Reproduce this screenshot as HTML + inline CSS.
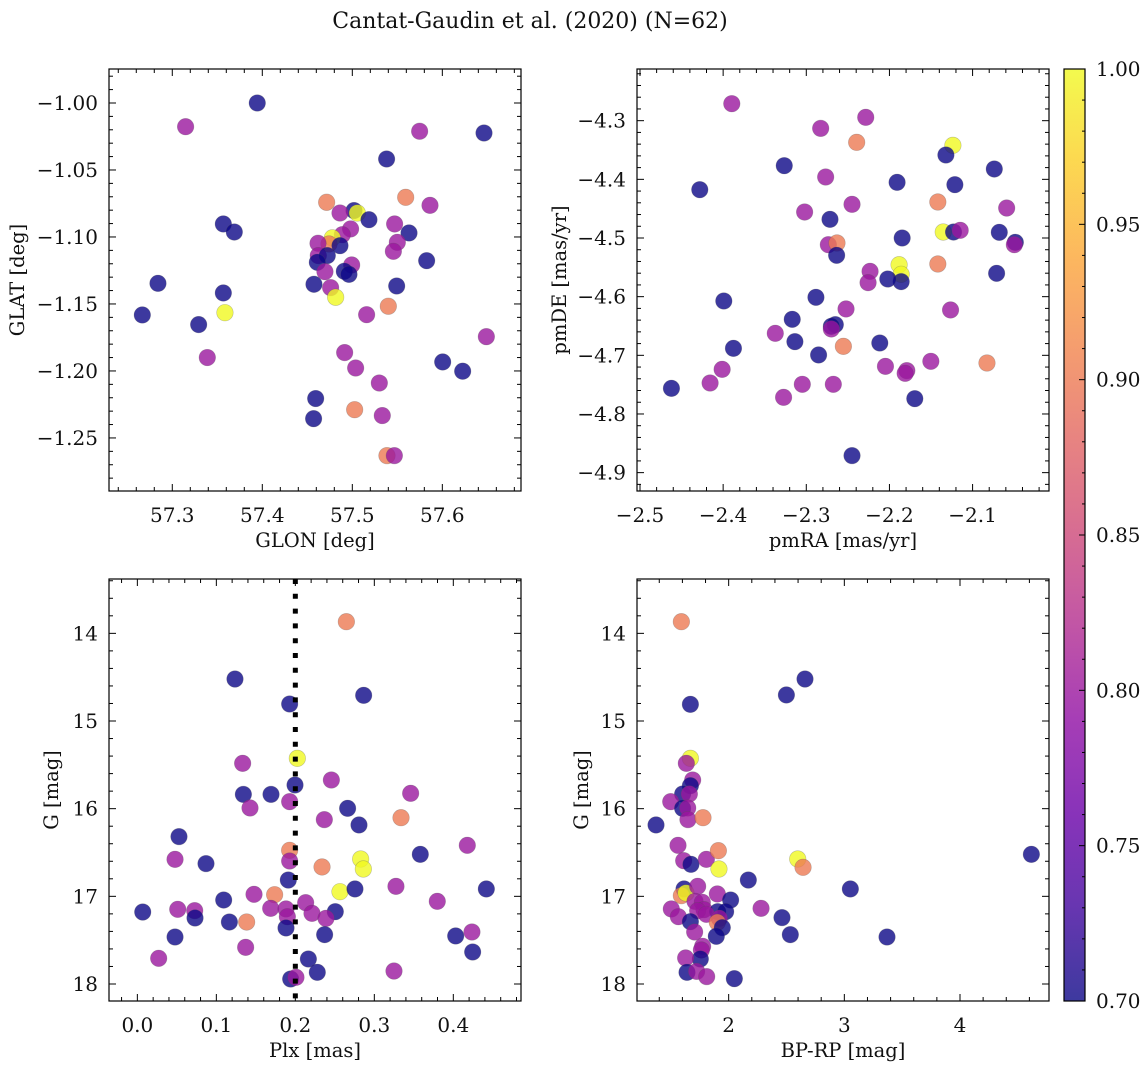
<!DOCTYPE html>
<html><head><meta charset="utf-8">
<style>
html,body{margin:0;padding:0;background:#fff;}
svg{display:block;font-family:"DejaVu Serif","Liberation Serif",serif;}
</style></head>
<body>
<svg id="fig" width="1148" height="1068" viewBox="0 0 1148 1068" xmlns="http://www.w3.org/2000/svg">
<rect x="0" y="0" width="1148" height="1068" fill="#fff"/>
<text x="530" y="28" font-size="22" text-anchor="middle" fill="#111">Cantat-Gaudin et al. (2020) (N=62)</text>
</svg>
<script>
// ---------- data ----------
// panel 1: GLON vs GLAT
const glon = [57.3944,57.3148,57.5748,57.6463,57.5381,57.4715,57.5593,57.5863,57.5019,57.5056,57.4863,57.5185,57.3567,57.3689,57.5470,57.5630,57.4981,57.4889,57.4778,57.4741,57.4619,57.4863,57.5500,57.5456,57.4622,57.4722,57.4611,57.5826,57.4993,57.4911,57.4963,57.4696,57.2841,57.4574,57.3567,57.4759,57.4815,57.5493,57.5400,57.2667,57.3585,57.5159,57.3293,57.6489,57.3389,57.4915,57.6004,57.6226,57.5037,57.5300,57.4593,57.5026,57.4570,57.5333,57.5385,57.5467];
const glat = [-1.000,-1.0177,-1.0211,-1.0224,-1.0418,-1.0741,-1.0704,-1.0764,-1.0803,-1.0821,-1.0821,-1.0871,-1.0903,-1.0963,-1.0903,-1.0970,-1.0940,-1.0983,-1.1007,-1.1052,-1.1047,-1.1065,-1.1040,-1.1107,-1.1139,-1.1139,-1.1189,-1.1177,-1.1209,-1.1256,-1.1279,-1.1259,-1.1346,-1.1353,-1.1418,-1.1378,-1.1450,-1.1366,-1.1517,-1.1582,-1.1565,-1.1580,-1.1654,-1.1744,-1.1900,-1.1863,-1.1933,-1.2002,-1.1978,-1.2090,-1.2206,-1.2289,-1.2356,-1.2333,-1.2632,-1.2632];
const prob1 = [0.70,0.80,0.80,0.70,0.70,0.90,0.90,0.80,0.70,1.00,0.80,0.70,0.70,0.70,0.80,0.70,0.80,0.80,1.00,0.90,0.80,0.70,0.80,0.80,0.80,0.70,0.70,0.70,0.80,0.70,0.70,0.80,0.70,0.70,0.70,0.80,1.00,0.70,0.90,0.70,1.00,0.80,0.70,0.80,0.80,0.80,0.70,0.70,0.80,0.80,0.70,0.90,0.70,0.80,0.90,0.80];
// panel 2: pmRA vs pmDE
const pmra = [-2.3896,-2.2285,-2.2827,-2.2394,-2.1237,-2.1321,-2.3265,-2.0739,-2.2767,-2.1908,-2.1213,-2.4281,-2.1418,-2.0590,-2.2450,-2.3020,-2.2715,-2.1353,-2.1229,-2.1149,-2.0679,-2.1847,-2.0486,-2.0498,-2.2735,-2.2631,-2.2635,-2.1884,-2.1418,-2.1859,-2.1859,-2.2020,-2.2233,-2.2257,-2.0711,-2.2884,-2.3992,-2.2522,-2.1265,-2.3169,-2.2651,-2.2699,-2.2699,-2.3373,-2.3137,-2.2554,-2.2116,-2.3876,-2.2852,-2.0827,-2.1502,-2.2048,-2.1791,-2.1811,-2.4012,-2.4622,-2.4157,-2.3048,-2.2675,-2.3273,-2.1695,-2.2450];
const pmde = [-4.2710,-4.2943,-4.3131,-4.3369,-4.3420,-4.3585,-4.3767,-4.3824,-4.3960,-4.4051,-4.4091,-4.4176,-4.4386,-4.4489,-4.4426,-4.4557,-4.4682,-4.4898,-4.4898,-4.4869,-4.4903,-4.5000,-4.5074,-4.5114,-4.5114,-4.5085,-4.5295,-4.5455,-4.5443,-4.5619,-4.5744,-4.5699,-4.5568,-4.5761,-4.5602,-4.6011,-4.6074,-4.6210,-4.6227,-4.6386,-4.6477,-4.6506,-4.6551,-4.6625,-4.6767,-4.6847,-4.6790,-4.6881,-4.6994,-4.7131,-4.7102,-4.7188,-4.7261,-4.7307,-4.7239,-4.7563,-4.7472,-4.7494,-4.7494,-4.7716,-4.7739,-4.8710];
const prob2 = [0.80,0.80,0.80,0.90,1.00,0.70,0.70,0.70,0.80,0.70,0.70,0.70,0.90,0.80,0.80,0.80,0.70,1.00,0.70,0.80,0.70,0.70,0.70,0.80,0.80,0.90,0.70,1.00,0.90,1.00,0.70,0.70,0.80,0.80,0.70,0.70,0.70,0.80,0.80,0.70,0.70,0.70,0.80,0.80,0.70,0.90,0.70,0.70,0.70,0.90,0.80,0.80,0.80,0.80,0.80,0.70,0.80,0.80,0.80,0.80,0.70,0.70];
// panel 3: Plx vs G
const plx = [0.2646,0.1236,0.2865,0.1928,0.2025,0.1333,0.2456,0.1996,0.1342,0.1692,0.3460,0.1928,0.1426,0.2662,0.2367,0.2806,0.3338,0.0527,0.4177,0.0477,0.0869,0.1928,0.1928,0.2338,0.2827,0.2861,0.3582,0.1911,0.3274,0.2565,0.2755,0.4418,0.1477,0.1738,0.1093,0.2131,0.3797,0.0068,0.0511,0.0726,0.0730,0.1688,0.1882,0.1899,0.2211,0.2506,0.2388,0.1165,0.1384,0.1882,0.2371,0.0477,0.4030,0.4236,0.1371,0.0270,0.4245,0.2165,0.2278,0.3249,0.1941,0.2008];
const gmag3 = [13.867,14.521,14.707,14.806,15.426,15.483,15.673,15.730,15.837,15.837,15.825,15.920,15.992,15.996,16.125,16.186,16.103,16.319,16.418,16.578,16.627,16.475,16.597,16.665,16.574,16.688,16.521,16.814,16.886,16.947,16.916,16.916,16.977,16.981,17.042,17.072,17.057,17.179,17.148,17.163,17.247,17.137,17.144,17.232,17.194,17.175,17.251,17.293,17.293,17.361,17.437,17.464,17.452,17.407,17.582,17.707,17.635,17.715,17.867,17.852,17.943,17.924];
const prob3 = [0.90,0.70,0.70,0.70,1.00,0.80,0.80,0.70,0.70,0.70,0.80,0.80,0.80,0.70,0.80,0.70,0.90,0.70,0.80,0.80,0.70,0.90,0.80,0.90,1.00,1.00,0.70,0.70,0.80,1.00,0.70,0.70,0.80,0.90,0.70,0.80,0.80,0.70,0.80,0.80,0.70,0.80,0.80,0.80,0.80,0.70,0.80,0.70,0.90,0.70,0.70,0.70,0.70,0.80,0.80,0.80,0.70,0.70,0.70,0.80,0.70,0.80];
// panel 4: BP-RP vs G
const bprp = [1.591,2.660,2.499,1.669,1.669,1.634,1.689,1.669,1.602,1.660,1.499,1.602,1.646,1.648,1.778,1.372,4.617,1.562,1.611,1.674,1.807,1.911,1.916,2.597,2.643,2.170,1.614,1.591,1.631,1.732,1.902,3.052,2.017,1.709,1.772,1.787,1.732,1.504,1.905,1.974,2.280,1.565,1.807,1.669,1.919,1.902,1.945,2.461,2.533,1.893,3.369,1.706,1.775,1.764,1.755,1.628,1.640,1.723,1.810,2.049];
const gmag4 = [13.867,14.521,14.703,14.810,15.426,15.483,15.673,15.738,15.833,15.833,15.920,15.996,15.992,16.125,16.103,16.186,16.521,16.418,16.593,16.635,16.578,16.479,16.688,16.574,16.669,16.814,16.916,16.992,16.962,16.886,16.973,16.916,17.042,17.057,17.068,17.152,17.163,17.144,17.175,17.175,17.137,17.232,17.205,17.289,17.251,17.297,17.357,17.243,17.437,17.456,17.464,17.407,17.570,17.612,17.715,17.703,17.867,17.856,17.916,17.939];
const prob4 = [0.90,0.70,0.70,0.70,1.00,0.80,0.80,0.70,0.70,0.80,0.80,0.70,0.80,0.80,0.90,0.70,0.70,0.80,0.80,0.70,0.80,0.90,1.00,1.00,0.90,0.70,0.70,0.90,1.00,0.80,0.80,0.70,0.70,0.80,0.80,0.80,0.80,0.80,0.70,0.70,0.80,0.80,0.80,0.70,0.80,0.90,0.70,0.70,0.70,0.70,0.70,0.80,0.80,0.80,0.70,0.80,0.70,0.80,0.80,0.70];
// tick labels
const ticks1x = [57.3,57.4,57.5,57.6];
const ticks1y = [-1.00,-1.05,-1.10,-1.15,-1.20,-1.25];
const ticks2x = [-2.5,-2.4,-2.3,-2.2,-2.1];
const ticks2y = [-4.3,-4.4,-4.5,-4.6,-4.7,-4.8,-4.9];
const ticks3x = [0.0,0.1,0.2,0.3,0.4];
const ticksG = [14,15,16,17,18];
const ticks4x = [2,3,4];
const cbarTicks = [0.70,0.75,0.80,0.85,0.90,0.95,1.00];
const plxCut = 0.2;

// ---------- helpers ----------
const NS = "http://www.w3.org/2000/svg";
const svg = document.getElementById('fig');
function mk(tag, attrs, parent){ const e=document.createElementNS(NS,tag); for(const k in attrs) e.setAttribute(k,attrs[k]); (parent||svg).appendChild(e); return e; }
const stops=[[0,[13,8,135]],[0.1,[65,4,157]],[0.2,[106,0,168]],[0.3,[143,13,164]],[0.4,[177,42,144]],[0.5,[204,71,120]],[0.6,[225,100,98]],[0.7,[242,132,75]],[0.8,[252,166,54]],[0.9,[252,206,37]],[1,[240,249,33]]];
function plasma(t){ t=Math.max(0,Math.min(1,t)); for(let i=1;i<stops.length;i++){ if(t<=stops[i][0]){ const a=stops[i-1],b=stops[i]; const f=(t-a[0])/(b[0]-a[0]); const c=a[1].map((v,j)=>Math.round(v+(b[1][j]-v)*f)); return `rgb(${c[0]},${c[1]},${c[2]})`; } } return 'rgb(240,249,33)'; }
const cmap = p => plasma((p-0.70)/0.30);
const fmtMinus = s => s.replace('-', '\u2212');
const TICKFS = 20, LABFS = 19.5;

function panel(o){
  const g = mk('g',{});
  
  
  const X = v => o.x0 + (v-o.xmin)/(o.xmax-o.xmin)*(o.x1-o.x0);
  const Y = v => o.yinv ? o.y0 + (v-o.ymin)/(o.ymax-o.ymin)*(o.y1-o.y0)
                        : o.y1 - (v-o.ymin)/(o.ymax-o.ymin)*(o.y1-o.y0);
  const pg = mk('g',{},g);
  
  
  for(let i=0;i<o.xs.length;i++){
    const c = mk('circle',{cx:X(o.xs[i]),cy:Y(o.ys[i]),r:8.3,fill:cmap(o.ps[i]),'fill-opacity':0.8,stroke:'#555','stroke-opacity':0.35,'stroke-width':0.6},pg);
    
    
  }
  if(o.extra) o.extra(g,X,Y);
  const fr = mk('rect',{x:o.x0,y:o.y0,width:o.x1-o.x0,height:o.y1-o.y0,fill:'none',stroke:'#000','stroke-width':1.2},g);
  
  
  const tg = mk('g',{stroke:'#000','stroke-width':1},g);
  const eps=1e-9;
  for(let v=Math.ceil(o.xmin/o.xminor-eps)*o.xminor; v<=o.xmax+eps; v+=o.xminor){
    const x=X(v); const maj = Math.abs(v/o.xmajor-Math.round(v/o.xmajor))<1e-6; const L=maj?7:4;
    mk('line',{x1:x,y1:o.y1,x2:x,y2:o.y1-L},tg); mk('line',{x1:x,y1:o.y0,x2:x,y2:o.y0+L},tg);
  }
  const ylo=Math.min(o.ymin,o.ymax), yhi=Math.max(o.ymin,o.ymax);
  for(let v=Math.ceil(ylo/o.yminor-eps)*o.yminor; v<=yhi+eps; v+=o.yminor){
    const y=Y(v); const maj = Math.abs(v/o.ymajor-Math.round(v/o.ymajor))<1e-6; const L=maj?7:4;
    mk('line',{x1:o.x0,y1:y,x2:o.x0+L,y2:y},tg); mk('line',{x1:o.x1,y1:y,x2:o.x1-L,y2:y},tg);
  }
  o.xt.forEach(v=>{ const t=mk('text',{x:X(v),y:o.y1+31,'font-size':TICKFS,'text-anchor':'middle',fill:'#111'},g); t.textContent=fmtMinus(v.toFixed(o.xdec));
      });
  o.yt.forEach(v=>{ const t=mk('text',{x:o.x0-11,y:Y(v)+7,'font-size':TICKFS,'text-anchor':'end',fill:'#111'},g); t.textContent=fmtMinus(v.toFixed(o.ydec));
      });
  const xl=mk('text',{x:(o.x0+o.x1)/2,y:o.y1+56,'font-size':LABFS,'text-anchor':'middle',fill:'#111'},g); xl.textContent=o.xlabel;
   
  const yy=(o.y0+o.y1)/2;
  const yl=mk('text',{x:o.ylx,y:yy,'font-size':LABFS,'text-anchor':'middle',fill:'#111',transform:`rotate(-90 ${o.ylx} ${yy})`},g); yl.textContent=o.ylabel;
   
}

panel({name:'glon-glat-panel',x0:109,x1:521,y0:69,y1:491,xmin:57.2297,xmax:57.6874,ymin:-1.2896,ymax:-0.97463,
  xs:glon,ys:glat,ps:prob1,xminor:0.02,xmajor:0.1,yminor:0.01,ymajor:0.05,xt:ticks1x,yt:ticks1y,xdec:1,ydec:2,
  xlabel:'GLON [deg]',ylabel:'GLAT [deg]',ylx:24});
panel({name:'pm-panel',x0:637,x1:1049,y0:69,y1:491,xmin:-2.5036,xmax:-2.0081,ymin:-4.9313,ymax:-4.2119,
  xs:pmra,ys:pmde,ps:prob2,xminor:0.02,xmajor:0.1,yminor:0.02,ymajor:0.1,xt:ticks2x,yt:ticks2y,xdec:1,ydec:1,
  xlabel:'pmRA [mas/yr]',ylabel:'pmDE [mas/yr]',ylx:566});
panel({name:'plx-g-panel',x0:109,x1:521,y0:579,y1:1001,xmin:-0.0359,xmax:0.4857,ymin:13.380,ymax:18.194,yinv:true,
  xs:plx,ys:gmag3,ps:prob3,xminor:0.02,xmajor:0.1,yminor:0.2,ymajor:1,xt:ticks3x,yt:ticksG,xdec:1,ydec:0,
  xlabel:'Plx [mas]',ylabel:'G [mag]',ylx:58,
  extra:(g,X,Y)=>{ const l=mk('line',{x1:X(plxCut),y1:579,x2:X(plxCut),y2:1001,stroke:'#000','stroke-width':5,'stroke-dasharray':'5 9.8'},g);
      }});
panel({name:'cmd-panel',x0:637,x1:1049,y0:579,y1:1001,xmin:1.2075,xmax:4.7695,ymin:13.380,ymax:18.194,yinv:true,
  xs:bprp,ys:gmag4,ps:prob4,xminor:0.2,xmajor:1,yminor:0.2,ymajor:1,xt:ticks4x,yt:ticksG,xdec:0,ydec:0,
  xlabel:'BP-RP [mag]',ylabel:'G [mag]',ylx:588});

// colorbar
const cb = mk('g',{});


const defs = mk('defs',{},cb);
const grad = mk('linearGradient',{id:'pg',x1:0,y1:1,x2:0,y2:0},defs);
for(let i=0;i<=20;i++){ mk('stop',{offset:i/20,'stop-color':plasma(i/20),'stop-opacity':0.8},grad); }
const cbX0=1064, cbX1=1085, cbY0=69, cbY1=1001;
mk('rect',{x:cbX0,y:cbY0,width:cbX1-cbX0,height:cbY1-cbY0,fill:'url(#pg)',stroke:'#000','stroke-width':1.2},cb);
const CY = v => cbY1 - (v-0.70)/0.30*(cbY1-cbY0);
for(let k=0;k<=30;k++){ const v=0.70+k*0.01; const maj=k%5===0; mk('line',{x1:cbX1,y1:CY(v),x2:cbX1-(maj?6:3),y2:CY(v),stroke:'#000','stroke-width':1},cb); }
cbarTicks.forEach(v=>{ const t=mk('text',{x:1096,y:CY(v)+7,'font-size':TICKFS,fill:'#111'},cb); t.textContent=v.toFixed(2);
    });
</script>
</body></html>
